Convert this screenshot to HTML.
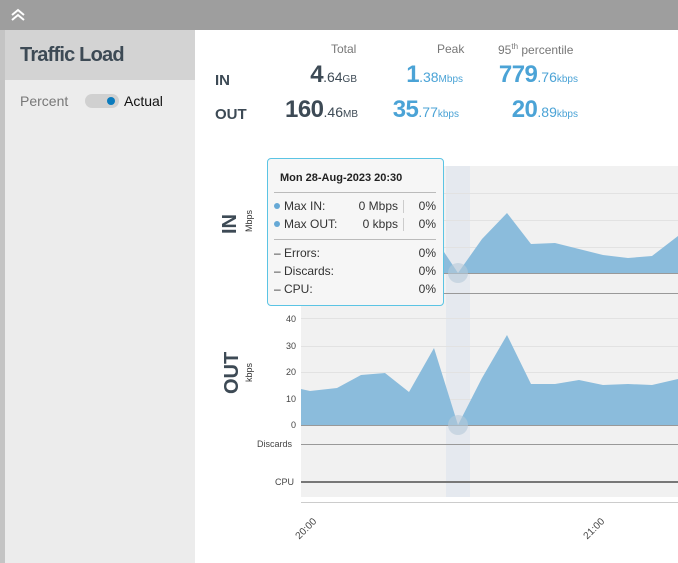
<!DOCTYPE html>
<html><head><meta charset="utf-8"><style>
*{margin:0;padding:0;box-sizing:border-box}
body{width:678px;height:563px;overflow:hidden;background:#fff;font-family:"Liberation Sans",sans-serif;position:relative}
.a{position:absolute;white-space:nowrap}
.h{color:#777;font-size:12px}
.lbl{color:#3d4a55;font-weight:bold;font-size:15px}
.big{font-size:24px;font-weight:bold;letter-spacing:-0.5px}
.sm{font-size:14px}
.u{font-size:10px}
.d{color:#3d4a55}.b{color:#4ba3d6}
.tt{font-size:12px;color:#333}
</style></head><body>
<div class="a" style="left:0;top:0;width:678px;height:30px;background:#9e9e9e"></div>
<svg class="a" style="left:10px;top:8px" width="16" height="14"><polyline points="2,7 8,2 14,7" fill="none" stroke="#fff" stroke-width="2"/><polyline points="2,12 8,7 14,12" fill="none" stroke="#fff" stroke-width="2"/></svg>
<div class="a" style="left:0;top:30px;width:5px;height:533px;background:#c4c4c4"></div>
<div class="a" style="left:5px;top:30px;width:190px;height:533px;background:#ececec"></div>
<div class="a" style="left:5px;top:30px;width:190px;height:50px;background:#d3d3d3"></div>
<div class="a" style="left:20px;top:44px;font-size:20px;font-weight:bold;color:#3d4a55;letter-spacing:-0.8px">Traffic Load</div>
<div class="a" style="left:20px;top:93px;font-size:14px;color:#777">Percent</div>
<div class="a" style="left:85px;top:94px;width:34px;height:14px;border-radius:7px;background:#d0d0d0"></div>
<div class="a" style="left:107px;top:97px;width:8px;height:8px;border-radius:4px;background:#0a7bbd"></div>
<div class="a" style="left:124px;top:93px;font-size:14px;color:#111">Actual</div>

<div class="a h" style="left:331px;top:42px">Total</div>
<div class="a h" style="left:437px;top:42px">Peak</div>
<div class="a h" style="left:498px;top:42px">95<sup style="font-size:8px">th</sup> percentile</div>
<div class="a lbl" style="left:215px;top:72px">IN</div>
<div class="a lbl" style="left:215px;top:106px">OUT</div>
<div class="a d" style="right:321px;top:61px"><span class="big">4</span><span class="sm">.64</span><span class="u">GB</span></div>
<div class="a b" style="right:215px;top:61px"><span class="big">1</span><span class="sm">.38</span><span class="u">Mbps</span></div>
<div class="a b" style="right:100px;top:61px"><span class="big">779</span><span class="sm">.76</span><span class="u">kbps</span></div>
<div class="a d" style="right:320px;top:96px"><span class="big">160</span><span class="sm">.46</span><span class="u">MB</span></div>
<div class="a b" style="right:219px;top:96px"><span class="big">35</span><span class="sm">.77</span><span class="u">kbps</span></div>
<div class="a b" style="right:100px;top:96px"><span class="big">20</span><span class="sm">.89</span><span class="u">kbps</span></div>

<svg class="a" style="left:0;top:0" width="678" height="563">
<rect x="301" y="166" width="377" height="331" fill="#f1f1f1"/>
<rect x="446" y="166" width="24" height="331" fill="#e5e9ef"/>
<g stroke="#e2e2e2" stroke-width="1">
<line x1="301" y1="193.5" x2="678" y2="193.5"/><line x1="301" y1="220.5" x2="678" y2="220.5"/><line x1="301" y1="247.5" x2="678" y2="247.5"/>
<line x1="301" y1="318.5" x2="678" y2="318.5"/><line x1="301" y1="346.5" x2="678" y2="346.5"/><line x1="301" y1="372.5" x2="678" y2="372.5"/><line x1="301" y1="399.5" x2="678" y2="399.5"/>
</g>
<polygon fill="#8bbcdc" points="301,273 301,240 444,252 458,273 482,239 507,213 531,244 555,243 579,249 603,255 628,258 652,256 678,236 678,273"/>
<polygon fill="#8bbcdc" points="301,425 301,389 310,391 337,388 361,375 385,373 409,392 434,348 458,425 482,378 507,335 531,384 555,384 579,380 603,385 628,384 652,385 678,379 678,425"/>
<line x1="301" y1="273.5" x2="678" y2="273.5" stroke="#999"/>
<line x1="301" y1="293.5" x2="678" y2="293.5" stroke="#999"/>
<line x1="301" y1="425.5" x2="678" y2="425.5" stroke="#999"/>
<line x1="301" y1="444.5" x2="678" y2="444.5" stroke="#999"/>
<line x1="301" y1="482" x2="678" y2="482" stroke="#777" stroke-width="2"/>
<line x1="301" y1="502.5" x2="678" y2="502.5" stroke="#ccc"/>
<circle cx="458" cy="273" r="10" fill="#b5c9d8" opacity=".6"/>
<circle cx="458" cy="425" r="10" fill="#b5c9d8" opacity=".6"/>
<g font-family="Liberation Sans,sans-serif" font-size="9" fill="#444" text-anchor="end">
<text x="296" y="322">40</text><text x="296" y="349">30</text><text x="296" y="375">20</text><text x="296" y="402">10</text><text x="296" y="428">0</text>
<text x="292" y="447">Discards</text><text x="294" y="485">CPU</text>
</g>
<g font-family="Liberation Sans,sans-serif" font-size="10" fill="#444" text-anchor="end">
<text transform="translate(317,522) rotate(-45)">20:00</text>
<text transform="translate(605,522) rotate(-45)">21:00</text>
</g>
<g font-family="Liberation Sans,sans-serif" fill="#3d4a55" font-weight="bold" font-size="20">
<text transform="translate(236,234) rotate(-90)">IN</text>
<text transform="translate(238,394) rotate(-90)">OUT</text>
</g>
<g font-family="Liberation Sans,sans-serif" fill="#333" font-size="9">
<text transform="translate(252,232) rotate(-90)">Mbps</text>
<text transform="translate(252,382) rotate(-90)">kbps</text>
</g>
</svg>

<div class="a" style="left:267px;top:158px;width:177px;height:148px;border:1px solid #5bc4e4;border-radius:4px;background:#f6f6f6"></div>
<div class="a tt" style="left:280px;top:172px;font-size:11px;font-weight:bold;color:#222">Mon 28-Aug-2023 20:30</div>
<div class="a" style="left:274px;top:192px;width:162px;height:1px;background:#bbb"></div>
<div class="a" style="left:274px;top:239px;width:162px;height:1px;background:#bbb"></div>
<div class="a" style="left:274px;top:203px;width:6px;height:6px;border-radius:3px;background:#66a9d6"></div>
<div class="a" style="left:274px;top:221px;width:6px;height:6px;border-radius:3px;background:#66a9d6"></div>
<div class="a tt" style="left:284px;top:199px">Max IN:</div>
<div class="a tt" style="left:284px;top:217px">Max OUT:</div>
<div class="a tt" style="right:280px;top:199px">0 Mbps</div>
<div class="a tt" style="right:280px;top:217px">0 kbps</div>
<div class="a" style="left:403px;top:200px;width:1px;height:13px;background:#ccc"></div>
<div class="a" style="left:403px;top:218px;width:1px;height:13px;background:#ccc"></div>
<div class="a tt" style="right:242px;top:199px">0%</div>
<div class="a tt" style="right:242px;top:217px">0%</div>
<div class="a tt" style="left:274px;top:246px">– Errors:</div>
<div class="a tt" style="left:274px;top:264px">– Discards:</div>
<div class="a tt" style="left:274px;top:282px">– CPU:</div>
<div class="a tt" style="right:242px;top:246px">0%</div>
<div class="a tt" style="right:242px;top:264px">0%</div>
<div class="a tt" style="right:242px;top:282px">0%</div>
</body></html>
